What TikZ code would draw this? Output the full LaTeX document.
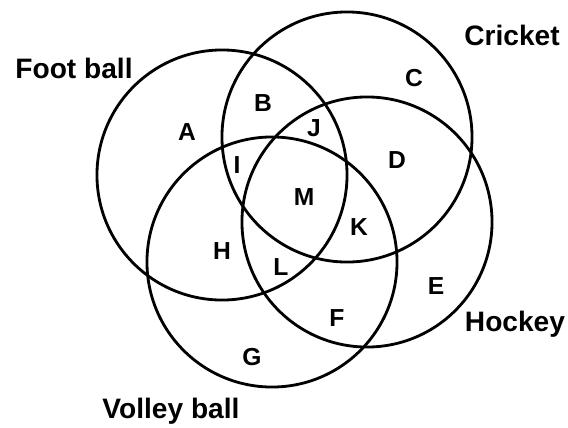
\documentclass[tikz,border=0pt]{standalone}
\usepackage{fontspec}
\setmainfont{Liberation Sans}
\begin{document}
\begin{tikzpicture}[x=0.025cm,y=-0.025cm,
    ring/.style={draw,circle,line width=2pt,minimum size=6.25cm,inner sep=0pt},
    setname/.style={font=\fontsize{20}{24}\selectfont\bfseries},
    region/.style={font=\fontsize{17.5}{20}\selectfont\bfseries}]
    \useasboundingbox (0,0) rectangle (568,428);
    % the four sets
    \node [ring] (football) at (222,175) {};
    \node [ring] (cricket) at (347,137) {};
    \node [ring] (hockey) at (367,222) {};
    \node [ring] (volleyball) at (272,262) {};
    \node [setname] (footballname) at (74,68) {Foot ball};
    \node [setname] (cricketname) at (512,35) {Cricket};
    \node [setname] (hockeyname) at (515,324) {Hockey};
    \node [setname] (volleyballname) at (171,411) {Volley ball};
    % regions
    \node [region] (a) at (187,132) {A};
    \node [region] (b) at (263,103) {B};
    \node [region] (c) at (414,78) {C};
    \node [region] (d) at (397,160) {D};
    \node [region] (e) at (436,286) {E};
    \node [region] (f) at (337,318) {F};
    \node [region] (g) at (252,357) {G};
    \node [region] (h) at (222,251) {H};
    \node [region] (i) at (237,165) {I};
    \node [region] (j) at (314,128) {J};
    \node [region] (k) at (359,227) {K};
    \node [region] (l) at (281,267) {L};
    \node [region] (m) at (304,197) {M};
\end{tikzpicture}
\end{document}
